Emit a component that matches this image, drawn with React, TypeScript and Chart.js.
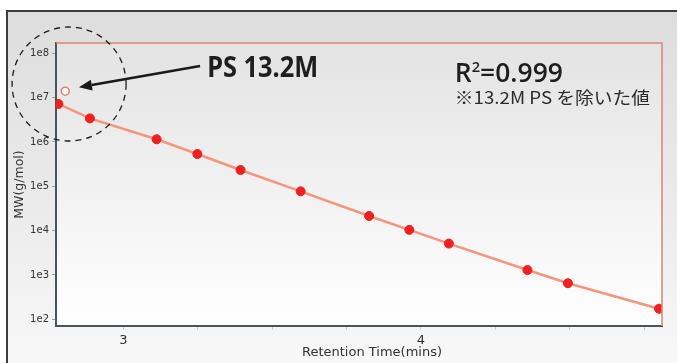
import { useEffect, useRef } from 'react';
import { Chart, registerables } from 'chart.js';

Chart.register(...registerables);

// ---- data ----
const retentionTimes = [2.782, 2.888, 3.112, 3.249, 3.394, 3.596, 3.826, 3.961, 4.094, 4.358, 4.494, 4.8];
const molecularWeights = [7.2e6, 3.4e6, 1.15e6, 5.35e5, 2.33e5, 7.7e4, 2.14e4, 1.04e4, 5.1e3, 1.29e3, 6.5e2, 1.73e2];
const excludedTimes = [2.805];
const excludedWeights = [1.4e7];

const yTickValues = [1e2, 1e3, 1e4, 1e5, 1e6, 1e7, 1e8];
const xLabeledTicks = [3, 4];
const xTickStep = 0.25;
const xRange = [2.774, 4.81];
const yRange = [70.5, 1.71e8];

const xTitle = 'Retention Time(mins)';
const yTitle = 'MW(g/mol)';
const calloutText = 'PS 13.2M';
const r2Value = '=0.999';
const noteText = '※13.2M PS を除いた値';

// annotation anchors in data coordinates [time, MW]
const circleCenter = [2.818, 2.03e7];
const arrowFrom = [3.258, 5.18e7];
const arrowTo = [2.851, 1.71e7];
const calloutAnchor = [3.282, 2.92e7];
const r2Anchor = [4.114, 2.25e7];
const noteAnchor = [4.114, 7.2e6];

function fitText(ctx: CanvasRenderingContext2D, text: string, x: number, y: number, target: number) {
  const w = ctx.measureText(text).width;
  const s = target / w;
  ctx.save();
  ctx.translate(x, y);
  ctx.scale(s, 1);
  ctx.fillText(text, 0, 0);
  ctx.restore();
}

const decor = {
  id: 'decor',
  beforeDraw(chart: any) {
    const { ctx, width, height, chartArea: a } = chart;
    ctx.save();
    ctx.fillStyle = '#ffffff';
    ctx.fillRect(0, 0, width, height);
    const g = ctx.createLinearGradient(0, 12, 0, height);
    g.addColorStop(0, '#dddddd');
    g.addColorStop(0.6, '#ececec');
    g.addColorStop(1, '#f8f8f8');
    ctx.fillStyle = g;
    ctx.fillRect(8, 12, width - 8, height - 12);
    ctx.strokeStyle = '#3c3c3c';
    ctx.lineWidth = 2;
    ctx.beginPath();
    ctx.moveTo(7, height);
    ctx.lineTo(7, 11);
    ctx.lineTo(width, 11);
    ctx.stroke();
    const g2 = ctx.createLinearGradient(0, a.top, 0, a.bottom);
    g2.addColorStop(0, '#e3e3e3');
    g2.addColorStop(1, '#ffffff');
    ctx.fillStyle = g2;
    ctx.fillRect(a.left, a.top, a.right - a.left, a.bottom - a.top);
    ctx.restore();
  },
  afterDraw(chart: any) {
    const { ctx, chartArea: a } = chart;
    const xs = chart.scales.x;
    const ys = chart.scales.y;
    const px = (v: number) => xs.getPixelForValue(v);
    const py = (v: number) => ys.getPixelForValue(v);
    ctx.save();
    // top/right plot border
    ctx.strokeStyle = '#d8866c';
    ctx.lineWidth = 1.5;
    ctx.beginPath();
    ctx.moveTo(a.left, a.top);
    ctx.lineTo(a.right, a.top);
    ctx.lineTo(a.right, a.bottom);
    ctx.stroke();

    // dashed circle
    ctx.strokeStyle = '#1c1c1c';
    ctx.lineWidth = 1.3;
    ctx.setLineDash([6, 5]);
    ctx.beginPath();
    ctx.arc(px(circleCenter[0]), py(circleCenter[1]), 57, 0, Math.PI * 2);
    ctx.stroke();
    ctx.setLineDash([]);

    // arrow
    const x1 = px(arrowFrom[0]), y1 = py(arrowFrom[1]);
    const x2 = px(arrowTo[0]), y2 = py(arrowTo[1]);
    const ang = Math.atan2(y2 - y1, x2 - x1);
    const hl = 13, hw = 5.5;
    const bx = x2 - hl * Math.cos(ang), by = y2 - hl * Math.sin(ang);
    ctx.strokeStyle = '#1a1a1a';
    ctx.fillStyle = '#1a1a1a';
    ctx.lineWidth = 2.5;
    ctx.beginPath();
    ctx.moveTo(x1, y1);
    ctx.lineTo(bx, by);
    ctx.stroke();
    ctx.beginPath();
    ctx.moveTo(x2, y2);
    ctx.lineTo(bx + hw * Math.sin(ang), by - hw * Math.cos(ang));
    ctx.lineTo(bx - hw * Math.sin(ang), by + hw * Math.cos(ang));
    ctx.closePath();
    ctx.fill();

    // callout text
    ctx.fillStyle = '#1e1e1e';
    ctx.textBaseline = 'alphabetic';
    ctx.textAlign = 'left';
    ctx.font = 'bold 28px "Noto Sans"';
    fitText(ctx, calloutText, px(calloutAnchor[0]), py(calloutAnchor[1]), 111);

    // R^2 text
    const big = '600 27px "Open Sans"';
    const small = '600 15px "Open Sans"';
    const rx = px(r2Anchor[0]), ry = py(r2Anchor[1]);
    ctx.font = big;
    const wR = ctx.measureText('R').width;
    ctx.font = small;
    const w2 = ctx.measureText('2').width;
    ctx.font = big;
    const wv = ctx.measureText(r2Value).width;
    const s = 108 / (wR + w2 + wv);
    ctx.save();
    ctx.translate(rx, ry);
    ctx.scale(s, 1);
    ctx.font = big;
    ctx.fillText('R', 0, 0);
    ctx.font = small;
    ctx.fillText('2', wR, -10);
    ctx.font = big;
    ctx.fillText(r2Value, wR + w2, 0);
    ctx.restore();

    // note text
    ctx.fillStyle = '#2a2a2a';
    ctx.font = '17px "Noto Sans CJK JP"';
    fitText(ctx, noteText, px(noteAnchor[0]), py(noteAnchor[1]), 195);

    // x axis title
    ctx.fillStyle = '#333333';
    ctx.font = '13px "DejaVu Sans"';
    ctx.textAlign = 'center';
    ctx.textBaseline = 'middle';
    ctx.fillText(xTitle, (a.left + a.right) / 2 + 13, 353);
    ctx.restore();
  },
};

export default function App() {
  const ref = useRef<HTMLCanvasElement | null>(null);
  useEffect(() => {
    document.body.style.margin = '0';
    const canvas = ref.current;
    if (!canvas) return;
    Chart.defaults.font.family = '"DejaVu Sans"';
    const chart = new Chart(canvas, {
      type: 'scatter',
      data: {
        datasets: [
          {
            label: 'standards',
            data: retentionTimes.map((t, i) => ({ x: t, y: molecularWeights[i] })),
            backgroundColor: '#ee2020',
            borderColor: '#ee2020',
            pointRadius: 4.5,
            pointHoverRadius: 4.5,
            showLine: false,
          },
          {
            label: 'excluded',
            data: excludedTimes.map((t, i) => ({ x: t, y: excludedWeights[i] })),
            backgroundColor: '#ffffff',
            borderColor: '#f07868',
            borderWidth: 1.5,
            pointRadius: 4,
            showLine: false,
          },
          {
            label: 'fit',
            data: retentionTimes.map((t, i) => ({ x: t, y: molecularWeights[i] })),
            borderColor: '#f4957c',
            borderWidth: 2.5,
            pointRadius: 0,
            showLine: true,
          },
        ],
      },
      options: {
        animation: false,
        responsive: false,
        events: [],
        layout: { padding: { top: 43, right: 15, left: 0, bottom: 0 } },
        plugins: { legend: { display: false }, tooltip: { enabled: false } },
        scales: {
          x: {
            type: 'linear',
            min: xRange[0],
            max: xRange[1],
            afterFit: (scale: any) => {
              scale.height = 37;
            },
            ticks: {
              stepSize: xTickStep,
              includeBounds: false,
              autoSkip: false,
              maxRotation: 0,
              padding: 3,
              color: '#333333',
              font: { size: 13 },
              callback: (v: any) => (xLabeledTicks.includes(Number(v)) ? String(v) : ''),
            },
            grid: {
              drawOnChartArea: false,
              drawTicks: true,
              tickLength: 4,
              tickColor: '#c8ccd0',
            },
            border: { color: '#4a545c', width: 2 },
          },
          y: {
            type: 'logarithmic',
            min: yRange[0],
            max: yRange[1],
            afterFit: (scale: any) => {
              scale.width = 56;
            },
            afterBuildTicks: (scale: any) => {
              scale.ticks = yTickValues.map((v) => ({ value: v }));
            },
            ticks: {
              padding: 3,
              color: '#333333',
              font: { size: 10 },
              autoSkip: false,
              callback: (v: any) => '1e' + Math.round(Math.log10(Number(v))),
            },
            grid: {
              drawOnChartArea: false,
              drawTicks: true,
              tickLength: 4,
              tickColor: '#8aa4b8',
            },
            border: { color: '#4a545c', width: 2 },
            title: {
              display: true,
              text: yTitle,
              color: '#333333',
              font: { size: 12.5 },
              padding: { top: 12, bottom: 0 },
            },
          },
        },
      },
      plugins: [decor],
    } as any);
    return () => chart.destroy();
  }, []);
  return <canvas ref={ref} width={677} height={363} style={{ display: 'block' }} />;
}
